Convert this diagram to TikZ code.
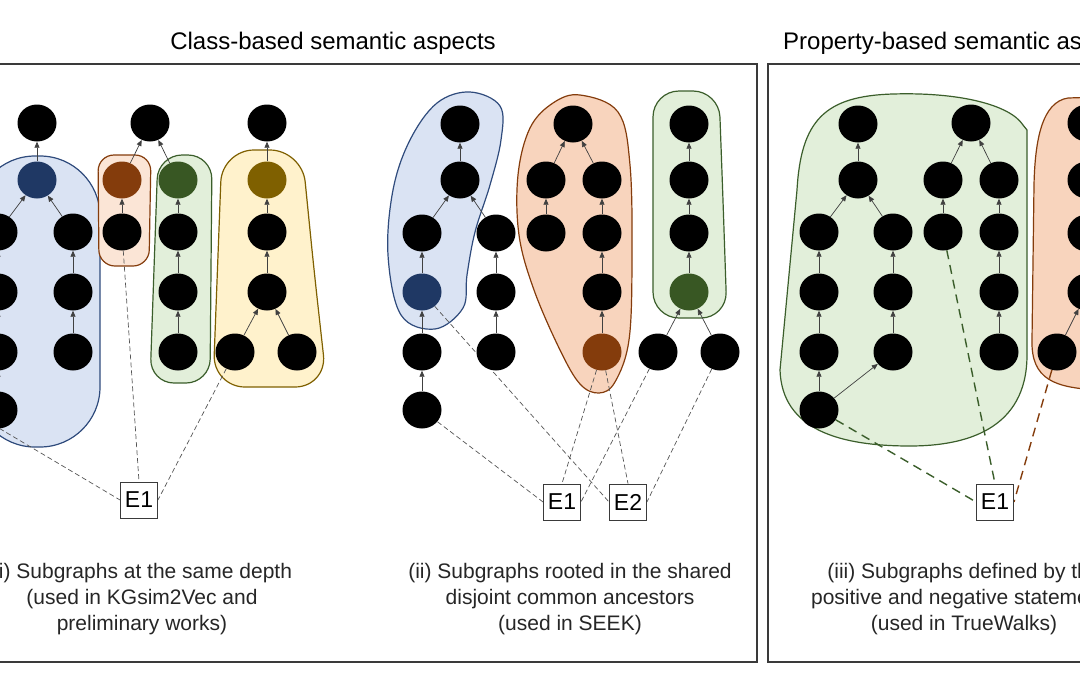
\documentclass[tikz,border=0pt]{standalone}
\usepackage{fontspec}
\setmainfont{Liberation Sans}
\usepackage{xcolor}
\definecolor{frameGray}{HTML}{3A3A3A}
\definecolor{edgeGray}{HTML}{404040}
\definecolor{dashGray}{HTML}{555555}
\definecolor{blueFill}{HTML}{DAE3F3}
\definecolor{blueLine}{HTML}{2F4B7C}
\definecolor{blueNode}{HTML}{1F3864}
\definecolor{orangeFill}{HTML}{F8D4BD}
\definecolor{orangeLight}{HTML}{FBE5D6}
\definecolor{brownNode}{HTML}{843C0C}
\definecolor{greenFill}{HTML}{E2EFDA}
\definecolor{greenLine}{HTML}{3B5E2B}
\definecolor{greenNode}{HTML}{385723}
\definecolor{yellowFill}{HTML}{FFF2CC}
\definecolor{oliveNode}{HTML}{7F6000}
\usepackage{tikz}
\usetikzlibrary{shapes.geometric,arrows.meta}
\pgfdeclarelayer{blobs}
\pgfdeclarelayer{links}
\pgfsetlayers{blobs,links,main}
\tikzset{
    ent/.style={
        ellipse,
        fill=black,
        minimum width=39pt,
        minimum height=37pt,
        inner sep=0pt
    },
    entity/.style={
        draw=frameGray,
        fill=white,
        line width=0.9pt,
        inner sep=1pt,
        minimum width=37pt,
        minimum height=36pt,
        font=\fontsize{23}{23}\selectfont
    },
    sub/.style={
        ->,
        >={Triangle[length=6pt,width=5pt]},
        draw=edgeGray,
        line width=0.7pt
    },
    link/.style={
        draw=dashGray,
        line width=0.7pt,
        dash pattern=on 5pt off 3pt
    },
    poslink/.style={
        draw=greenLine,
        line width=1.4pt,
        dash pattern=on 9pt off 6pt
    },
    neglink/.style={
        draw=brownNode,
        line width=1.4pt,
        dash pattern=on 9pt off 6pt
    },
    blueblob/.style={fill=blueFill, draw=blueLine, line width=1.2pt},
    orangeblob/.style={fill=orangeFill, draw=brownNode, line width=1.2pt},
    greenblob/.style={fill=greenFill, draw=greenLine, line width=1.2pt},
    yellowblob/.style={fill=yellowFill, draw=oliveNode, line width=1.2pt},
    panel/.style={draw=frameGray, line width=1.6pt},
    title/.style={inner sep=0pt, font=\fontsize{24}{28}\selectfont},
    caption/.style={align=center, font=\fontsize{21}{26}\selectfont, text=black!85}
}

\begin{document}
\begin{tikzpicture}[x=1pt, y=-1pt]
    \clip (0,0) rectangle (1080,675);

    % frames and titles
    \draw[panel] (-20,64) -- (757,64) -- (757,662) -- (-20,662);
    \draw[panel] (1100,64) -- (768,64) -- (768,662) -- (1100,662);
    \node[title] (clsTitle) at (333,43) {Class-based semantic aspects};
    \node[title, anchor=west] (propTitle) at (783,43) {Property-based semantic aspects};

    % (i) same depth
    \node[ent] (a0) at (37,123) {};
    \node[ent, fill=blueNode] (a1) at (37,180) {};
    \node[ent] (al1) at (-2,232) {};
    \node[ent] (al2) at (-2,292) {};
    \node[ent] (al3) at (-2,352) {};
    \node[ent] (al4) at (-2,410) {};
    \node[ent] (ar1) at (73,232) {};
    \node[ent] (ar2) at (73,292) {};
    \node[ent] (ar3) at (73,352) {};
    \node[ent] (b0) at (150,123) {};
    \node[ent, fill=brownNode] (b1) at (122,180) {};
    \node[ent] (b2) at (122,232) {};
    \node[ent, fill=greenNode] (c1) at (178,180) {};
    \node[ent] (c2) at (178,232) {};
    \node[ent] (c3) at (178,292) {};
    \node[ent] (c4) at (178,352) {};
    \node[ent] (d0) at (267,123) {};
    \node[ent, fill=oliveNode] (d1) at (267,180) {};
    \node[ent] (d2) at (267,232) {};
    \node[ent] (d3) at (267,292) {};
    \node[ent] (dl) at (235,352) {};
    \node[ent] (dr) at (297,352) {};
    \node[entity] (eI) at (139,500) {E1};
    \coordinate (aOut) at (-35,408);

    \draw[sub] (a1) -- (a0);
    \draw[sub] (al1) -- (a1);
    \draw[sub] (ar1) -- (a1);
    \draw[sub] (al2) -- (al1);
    \draw[sub] (al3) -- (al2);
    \draw[sub] (al4) -- (al3);
    \draw[sub] (ar2) -- (ar1);
    \draw[sub] (ar3) -- (ar2);
    \draw[sub] (b1) -- (b0);
    \draw[sub] (c1) -- (b0);
    \draw[sub] (b2) -- (b1);
    \draw[sub] (c2) -- (c1);
    \draw[sub] (c3) -- (c2);
    \draw[sub] (c4) -- (c3);
    \draw[sub] (d1) -- (d0);
    \draw[sub] (d2) -- (d1);
    \draw[sub] (d3) -- (d2);
    \draw[sub] (dl) -- (d3);
    \draw[sub] (dr) -- (d3);

    \node[caption] (capI) at (142,599) {(i) Subgraphs at the same depth\\(used in KGsim2Vec and\\preliminary works)};

    % (ii) shared disjoint common ancestors
    \node[ent] (sb0) at (460,124) {};
    \node[ent] (sb1) at (460,180) {};
    \node[ent] (sbl1) at (422,233) {};
    \node[ent, fill=blueNode] (sbl2) at (422,292) {};
    \node[ent] (sbl3) at (422,352) {};
    \node[ent] (sbl4) at (422,410) {};
    \node[ent] (sbr1) at (496,233) {};
    \node[ent] (sbr2) at (496,292) {};
    \node[ent] (sbr3) at (496,352) {};
    \node[ent] (so0) at (573,124) {};
    \node[ent] (sol1) at (546,180) {};
    \node[ent] (sor1) at (602,180) {};
    \node[ent] (sol2) at (546,233) {};
    \node[ent] (sor2) at (602,233) {};
    \node[ent] (sor3) at (602,292) {};
    \node[ent, fill=brownNode] (sor4) at (602,352) {};
    \node[ent] (sg0) at (689,124) {};
    \node[ent] (sg1) at (689,180) {};
    \node[ent] (sg2) at (689,233) {};
    \node[ent, fill=greenNode] (sg3) at (689,292) {};
    \node[ent] (sgl) at (658,352) {};
    \node[ent] (sgr) at (720,352) {};
    \node[entity] (eII1) at (562,502) {E1};
    \node[entity] (eII2) at (628,502) {E2};

    \draw[sub] (sb1) -- (sb0);
    \draw[sub] (sbl1) -- (sb1);
    \draw[sub] (sbr1) -- (sb1);
    \draw[sub] (sbl2) -- (sbl1);
    \draw[sub] (sbl3) -- (sbl2);
    \draw[sub] (sbl4) -- (sbl3);
    \draw[sub] (sbr2) -- (sbr1);
    \draw[sub] (sbr3) -- (sbr2);
    \draw[sub] (sol1) -- (so0);
    \draw[sub] (sor1) -- (so0);
    \draw[sub] (sol2) -- (sol1);
    \draw[sub] (sor2) -- (sor1);
    \draw[sub] (sor3) -- (sor2);
    \draw[sub] (sor4) -- (sor3);
    \draw[sub] (sg1) -- (sg0);
    \draw[sub] (sg2) -- (sg1);
    \draw[sub] (sg3) -- (sg2);
    \draw[sub] (sgl) -- (sg3);
    \draw[sub] (sgr) -- (sg3);

    \node[caption] (capII) at (570,599) {(ii) Subgraphs rooted in the shared\\disjoint common ancestors\\(used in SEEK)};

    % (iii) positive and negative statements
    \node[ent] (tg0) at (858,124) {};
    \node[ent] (tg1) at (858,180) {};
    \node[ent] (tgl1) at (819,232) {};
    \node[ent] (tgr1) at (893,232) {};
    \node[ent] (tgl2) at (819,292) {};
    \node[ent] (tgr2) at (893,292) {};
    \node[ent] (tgl3) at (819,352) {};
    \node[ent] (tgr3) at (893,352) {};
    \node[ent] (tgl4) at (819,410) {};
    \node[ent] (th0) at (971,123) {};
    \node[ent] (thl1) at (943,180) {};
    \node[ent] (thr1) at (999,180) {};
    \node[ent] (thl2) at (943,232) {};
    \node[ent] (thr2) at (999,232) {};
    \node[ent] (thr3) at (999,292) {};
    \node[ent] (thr4) at (999,352) {};
    \node[ent] (to1) at (1087,123) {};
    \node[ent] (to2) at (1087,180) {};
    \node[ent] (to3) at (1087,233) {};
    \node[ent] (to4) at (1087,292) {};
    \node[ent] (to5) at (1057,352) {};
    \node[entity] (eIII) at (995,502) {E1};

    \draw[sub] (tg1) -- (tg0);
    \draw[sub] (tgl1) -- (tg1);
    \draw[sub] (tgr1) -- (tg1);
    \draw[sub] (tgl2) -- (tgl1);
    \draw[sub] (tgr2) -- (tgr1);
    \draw[sub] (tgl3) -- (tgl2);
    \draw[sub] (tgr3) -- (tgr2);
    \draw[sub] (tgl4) -- (tgl3);
    \draw[sub] (tgl4) -- (tgr3);
    \draw[sub] (thl1) -- (th0);
    \draw[sub] (thr1) -- (th0);
    \draw[sub] (thl2) -- (thl1);
    \draw[sub] (thr2) -- (thr1);
    \draw[sub] (thr3) -- (thr2);
    \draw[sub] (thr4) -- (thr3);
    \draw[sub] (to5) -- (to4);

    \node[caption] (capIII) at (964,599) {(iii) Subgraphs defined by the\\positive and negative statements\\(used in TrueWalks)};

    % groups
    \begin{pgfonlayer}{blobs}
        \path[blueblob, rounded corners=60pt] (100,300) -- (100,447) -- (-25,447) -- (-25,156) -- (100,156) -- cycle;
        \path[orangeblob, fill=orangeLight, rounded corners=16pt] (150,210) -- (149,266) -- (99,266) -- (98,155) -- (151,155) -- cycle;
        \path[greenblob, rounded corners=24pt] (211,270) -- (210,383) -- (150,383) -- (158,155) -- (212,155) -- cycle;
        \path[yellowblob, rounded corners=32pt] (314,270) -- (327,387) -- (213,387) -- (222,150) -- (302,150) -- cycle;

        \draw[blueblob] plot[smooth cycle, tension=0.6] coordinates {(470,92) (500,106) (501,140) (490,185) (475,232) (467,275) (463,308) (435,329) (401,315) (388,255) (393,190) (410,140) (437,103)};
        \draw[orangeblob] plot[smooth cycle, tension=0.6] coordinates {(580,95) (618,112) (630,165) (632,260) (629,340) (615,382) (599,393) (580,384) (560,350) (534,290) (519,235) (518,175) (530,128) (553,103)};
        \path[greenblob, rounded corners=26pt] (723,200) -- (727,318) -- (653,318) -- (653,91) -- (719,91) -- cycle;

        \path[greenblob] (1027,130) -- (1027,355) .. controls (1027,430) and (965,446) .. (910,446) .. controls (840,446) and (782,430) .. (780,370) -- (797,190) .. controls (801,120) and (825,96) .. (893,94) .. controls (960,92) and (1010,105) .. (1023,125) -- cycle;
        \path[orangeblob] (1100,97) -- (1068,98) .. controls (1042,102) and (1035,140) .. (1034,185) -- (1032,340) .. controls (1031,380) and (1055,388) .. (1100,390) -- cycle;
    \end{pgfonlayer}

    % links to entities
    \begin{pgfonlayer}{links}
        \draw[link] (aOut) -- (eI.west);
        \draw[link] (b2) -- (eI.north);
        \draw[link] (dl) -- (eI.east);
        \draw[link] (sbl4) -- (eII1.west);
        \draw[link] (sbl2) -- (eII2.west);
        \draw[link] (sor4) -- (eII1.north);
        \draw[link] (sor4) -- (eII2.north);
        \draw[link] (sgl) -- (eII1.east);
        \draw[link] (sgr) -- (eII2.east);
        \draw[poslink] (tgl4) -- (eIII.west);
        \draw[poslink] (thl2) -- (eIII.north);
        \draw[neglink] (to5) -- (eIII.east);
    \end{pgfonlayer}
\end{tikzpicture}
\end{document}
